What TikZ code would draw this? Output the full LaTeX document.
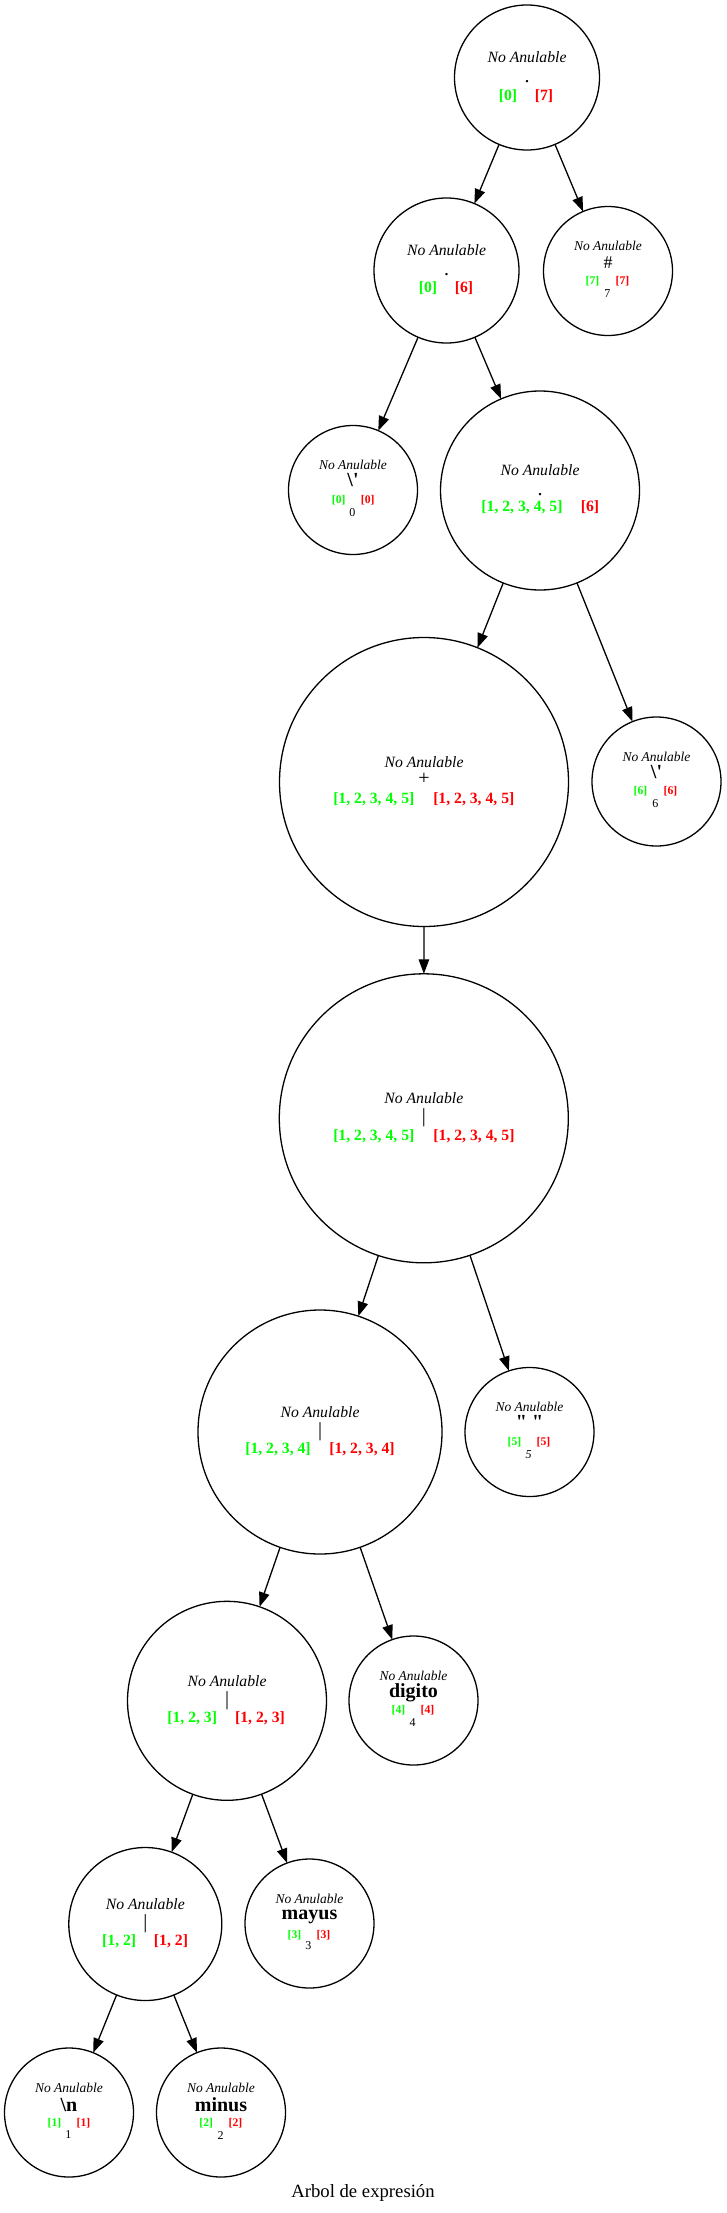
\documentclass[tikz,border=0pt]{standalone}
\usepackage{fontspec}
\setmainfont{Liberation Serif}
\newfontfamily\plainfont{Liberation Serif}
\usetikzlibrary{arrows.meta,calc}
\definecolor{gvgreen}{HTML}{00FF00}
\definecolor{gvred}{HTML}{FF0000}
\tikzset{
  x=1pt, y=-1pt,
  tnode/.style={circle,draw,line width=1.3pt,inner sep=0pt,outer sep=0pt,minimum size=#1},
  txt/.style={inner sep=0pt,outer sep=0pt,anchor=center},
  bigna/.style={txt,font=\fontsize{15.7}{16}\selectfont\itshape},
  bigsym/.style={txt,font=\plainfont\fontsize{20}{20}\selectfont},
  biglab/.style={txt,font=\fontsize{15.7}{16}\selectfont\bfseries},
  smallna/.style={txt,font=\fontsize{13.5}{14}\selectfont\itshape},
  smallsym/.style={txt,font=\plainfont\fontsize{20}{20}\selectfont\bfseries},
  smalllab/.style={txt,font=\fontsize{11.7}{12}\selectfont\bfseries},
  numtxt/.style={txt,font=\fontsize{12}{12}\selectfont},
  edge/.style={line width=1.3pt,-{Triangle[length=14.5pt,width=10.5pt]}},
}
% internal node: name, x, y, diameter, symbol, symbol dy
\newcommand{\IntNode}[6]{%
  \node[tnode=#4] (#1) at (#2,#3) {};
  \node[bigna] (#1-na) at ($(#1)+(0,-20)$) {No Anulable};
  \node[bigsym] (#1-sym) at ($(#1)+(0,#6)$) {#5};
}
% leaf node: name, x, y, symbol, symbol dy, number, number dx
\newcommand{\LeafNode}[7]{%
  \node[tnode=129pt] (#1) at (#2,#3) {};
  \node[smallna] (#1-na) at ($(#1)+(0,-25)$) {No Anulable};
  \node[smallsym] (#1-sym) at ($(#1)+(0,#5)$) {#4};
  \node[numtxt] (#1-n) at ($(#1)+(#7,22.5)$) {#6};
}
% labels: name, style, dy, green dx, green, red dx, red
\newcommand{\Labs}[7]{%
  \node[#2,text=gvgreen] (#1-g) at ($(#1)+(#4,#3)$) {#5};
  \node[#2,text=gvred] (#1-r) at ($(#1)+(#6,#3)$) {#7};
}
\begin{document}
\begin{tikzpicture}
\useasboundingbox (0,0) rectangle (726,2213);

\IntNode{root}{527}{77.5}{145pt}{.}{4.2}
\Labs{root}{biglab}{18.5}{-19}{[0]}{17}{[7]}

\LeafNode{nhash}{608}{271}{{\mdseries\fontsize{18}{18}\selectfont\#}}{-8}{7}{-0.7}
\Labs{nhash}{smalllab}{10}{-15.5}{[7]}{14.5}{[7]}

\IntNode{nA}{446.5}{270.5}{145pt}{.}{4.5}
\Labs{nA}{biglab}{18}{-18.5}{[0]}{17.5}{[6]}

\LeafNode{nq0}{353}{490}{\textbackslash'}{-10}{0}{-0.7}
\Labs{nq0}{smalllab}{10.3}{-14.3}{[0]}{14.7}{[0]}

\IntNode{nB}{540}{490.5}{199pt}{.}{4.5}
\Labs{nB}{biglab}{17}{-18}{[1, 2, 3, 4, 5]}{50}{[6]}

\IntNode{nplus}{424}{782}{289pt}{+}{-3}
\Labs{nplus}{biglab}{17}{-50.2}{[1, 2, 3, 4, 5]}{49.8}{[1, 2, 3, 4, 5]}

\LeafNode{nq6}{656.5}{781.5}{\textbackslash'}{-9.5}{6}{-1.2}
\Labs{nq6}{smalllab}{9.5}{-16}{[6]}{14}{[6]}

\IntNode{nbar1}{423.8}{1118.3}{289pt}{\textbar}{-0.2}
\Labs{nbar1}{biglab}{17.7}{-50}{[1, 2, 3, 4, 5]}{50.2}{[1, 2, 3, 4, 5]}

\IntNode{nbar2}{320}{1432}{244pt}{\textbar}{-0.3}
\Labs{nbar2}{biglab}{17.3}{-42}{[1, 2, 3, 4]}{42}{[1, 2, 3, 4]}

\LeafNode{nsp}{529.5}{1432}{" "}{-10}{{\itshape 5}}{-0.8}
\Labs{nsp}{smalllab}{10.7}{-15}{[5]}{14}{[5]}

\IntNode{nbar3}{227}{1700.8}{199pt}{\textbar}{-0.6}
\Labs{nbar3}{biglab}{17.5}{-34.8}{[1, 2, 3]}{33}{[1, 2, 3]}

\LeafNode{ndig}{413.5}{1700.5}{digito}{-7.8}{4}{-0.8}
\Labs{ndig}{smalllab}{9.5}{-15}{[4]}{14}{[4]}

\IntNode{nbar4}{145.3}{1924}{153pt}{\textbar}{-0.7}
\Labs{nbar4}{biglab}{17.7}{-26.1}{[1, 2]}{25.7}{[1, 2]}

\LeafNode{nmay}{309.5}{1923.5}{mayus}{-6.2}{3}{-1.2}
\Labs{nmay}{smalllab}{11.5}{-15}{[3]}{14}{[3]}

\LeafNode{nnl}{69}{2112.5}{\textbackslash n}{-7.5}{1}{-0.7}
\Labs{nnl}{smalllab}{10.2}{-14.5}{[1]}{14.5}{[1]}

\LeafNode{nmin}{221}{2112.5}{minus}{-7.5}{2}{-0.3}
\Labs{nmin}{smalllab}{10.2}{-14.7}{[2]}{14.5}{[2]}

\node[inner sep=0pt,anchor=base,font=\fontsize{18.7}{19}\selectfont] (cap) at (363,2197) {Arbol de expresión};

\draw[edge] (root) -- (nA);
\draw[edge] (root) -- (nhash);
\draw[edge] (nA) -- (nq0);
\draw[edge] (nA) -- (nB);
\draw[edge] (nB) -- (nplus);
\draw[edge] (nB) -- (nq6);
\draw[edge] (nplus) -- (nbar1);
\draw[edge] (nbar1) -- (nbar2);
\draw[edge] (nbar1) -- (nsp);
\draw[edge] (nbar2) -- (nbar3);
\draw[edge] (nbar2) -- (ndig);
\draw[edge] (nbar3) -- (nbar4);
\draw[edge] (nbar3) -- (nmay);
\draw[edge] (nbar4) -- (nnl);
\draw[edge] (nbar4) -- (nmin);
\end{tikzpicture}
\end{document}
